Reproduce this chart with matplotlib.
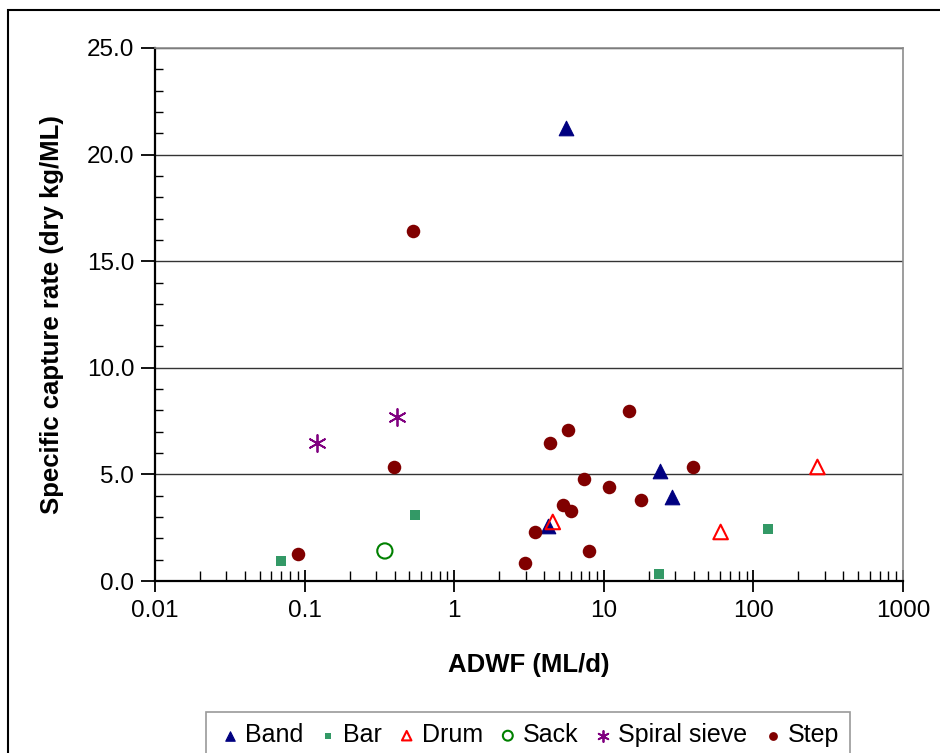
import matplotlib
matplotlib.use('Agg')
import matplotlib.pyplot as plt
from matplotlib.ticker import FixedLocator, FixedFormatter, MultipleLocator, LogLocator, NullFormatter
from matplotlib.patches import Rectangle

plt.rcParams['font.family'] = ['Liberation Sans', 'DejaVu Sans']

# Values (ADWF in ML/d, capture rate in dry kg/ML)
band_x = [5.57, 23.6, 28.4, 4.22]
band_y = [21.25, 5.15, 3.94, 2.58]

bar_x = [0.0695, 0.546, 23.3, 126]
bar_y = [0.94, 3.1, 0.33, 2.44]

drum_x = [4.56, 60.4, 268]
drum_y = [2.77, 2.3, 5.35]

sack_x = [0.344]
sack_y = [1.41]

spiral_x = [0.121, 0.414]
spiral_y = [6.47, 7.69]

step_x = [0.529, 0.395, 0.0901, 14.7, 5.74, 4.35, 39.3, 7.34, 10.8,
          17.6, 5.31, 6.01, 3.45, 7.93, 2.96]
step_y = [16.42, 5.35, 1.27, 7.97, 7.08, 6.47, 5.35, 4.78, 4.41,
          3.8, 3.56, 3.28, 2.3, 1.41, 0.84]

x_ticks = [0.01, 0.1, 1, 10, 100, 1000]
x_tick_labels = ['0.01', '0.1', '1', '10', '100', '1000']

fig = plt.figure(figsize=(9.4, 7.53), dpi=100)
ax = fig.add_axes([0.1649, 0.2284, 0.7957, 0.7079])

ax.scatter(band_x, band_y, marker='^', s=110, color='#000080', linewidths=0.8,
           label='Band', zorder=3)
ax.scatter(bar_x, bar_y, marker='s', s=55, color='#339966', linewidths=0,
           label='Bar', zorder=3)
ax.scatter(drum_x, drum_y, marker='^', s=110, facecolors='none', edgecolors='#ff0000',
           linewidths=1.5, label='Drum', zorder=3)
ax.scatter(sack_x, sack_y, marker='o', s=120, facecolors='none', edgecolors='#008000',
           linewidths=1.5, label='Sack', zorder=3)
ax.scatter(spiral_x, spiral_y, marker=(6, 2, 0), s=150, color='#800080',
           linewidths=1.3, label='Spiral sieve', zorder=3)
ax.scatter(step_x, step_y, marker='o', s=95, color='#800000', linewidths=0,
           label='Step', zorder=3)

ax.set_xscale('log')
ax.set_xlim(0.01, 1000)
ax.set_ylim(0, 25)

ax.xaxis.set_major_locator(FixedLocator(x_ticks))
ax.xaxis.set_major_formatter(FixedFormatter(x_tick_labels))
ax.xaxis.set_minor_locator(LogLocator(base=10, subs=range(2, 10), numticks=20))
ax.xaxis.set_minor_formatter(NullFormatter())
ax.yaxis.set_major_locator(MultipleLocator(5))
ax.yaxis.set_minor_locator(MultipleLocator(1))
ax.yaxis.set_major_formatter(plt.FormatStrFormatter('%.1f'))

ax.tick_params(axis='x', which='major', direction='inout', length=16, width=1.3,
               labelsize=17.5, pad=6)
ax.tick_params(axis='x', which='minor', direction='in', length=7, width=1.0)
ax.tick_params(axis='y', which='major', direction='out', length=10, width=1.3,
               labelsize=17.5, pad=5)
ax.tick_params(axis='y', which='minor', direction='in', length=6, width=1.0)

ax.grid(True, axis='y', which='major', color='#333333', linewidth=1.0)
ax.set_axisbelow(True)

for side in ['left', 'bottom']:
    ax.spines[side].set_color('black')
    ax.spines[side].set_linewidth(1.6)
for side in ['top', 'right']:
    ax.spines[side].set_color('#8c8c8c')
    ax.spines[side].set_linewidth(1.2)

ax.set_xlabel('ADWF (ML/d)', fontsize=18.5, fontweight='bold', labelpad=22)
ax.set_ylabel('Specific capture rate (dry kg/ML)', fontsize=18.5, fontweight='bold',
              labelpad=16)

leg = fig.legend(loc='upper center', bbox_to_anchor=(528 / 940, 1 - 712 / 753),
                 ncol=6, fontsize=18, frameon=True, fancybox=False,
                 markerscale=0.65, handletextpad=0.1, columnspacing=0.5,
                 handlelength=1.0, borderpad=0.45, borderaxespad=0)
leg.get_frame().set_edgecolor('#808080')
leg.get_frame().set_linewidth(1.2)

# outer chart border
fig.patches.append(Rectangle((8 / 940, -0.1), 1.2, 1.1 - 10 / 753, fill=False,
                             edgecolor='black', linewidth=1.5,
                             transform=fig.transFigure, figure=fig))

fig.savefig('out.png', dpi=100)
